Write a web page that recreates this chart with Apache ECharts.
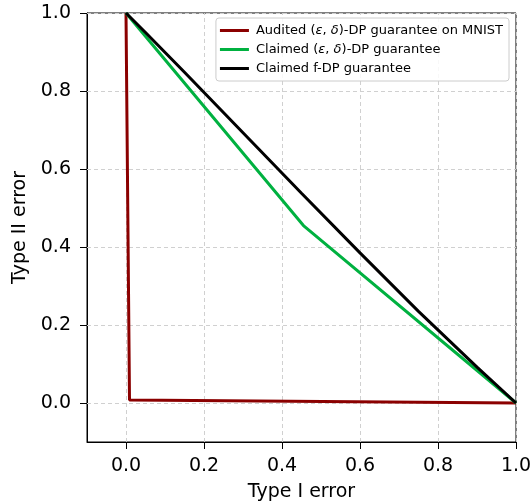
<!DOCTYPE html>
<html>
<head>
<meta charset="utf-8">
<script src="https://cdn.jsdelivr.net/npm/echarts@6/dist/echarts.min.js"></script>
<style>
html,body{margin:0;padding:0;background:#fff;}
#chart{width:532px;height:504px;}
</style>
</head>
<body>
<div id="chart"></div>
<script>
// ---- data ----
const auditedX = [0.0, 0.009, 1.0];
const auditedY = [1.0, 0.008, 0.0];
const claimedEDX = [0.0, 0.455, 1.0];
const claimedEDY = [1.0, 0.455, 0.0];
const fdpX = [0.0, 0.05, 0.15, 0.3, 0.45, 0.6, 0.75, 0.9, 1.0];
const fdpY = [1.0, 0.95, 0.848, 0.693, 0.538, 0.385, 0.235, 0.092, 0.0];
const tickValues = [0.0, 0.2, 0.4, 0.6, 0.8, 1.0];
const seriesNames = ['Audited (ε, δ)-DP guarantee on MNIST', 'Claimed (ε, δ)-DP guarantee', 'Claimed f-DP guarantee'];
const seriesColors = ['#8b0000', '#00b140', '#000000'];
const xName = 'Type I error';
const yName = 'Type II error';

function zip(xs, ys) { return xs.map((x, i) => [x, ys[i]]); }

const gridMarks = tickValues.map(v => ({ xAxis: v })).concat(tickValues.map(v => ({ yAxis: v })));

const chart = echarts.init(document.getElementById('chart'), null, { renderer: 'canvas' });
const font = 'DejaVu Sans';
chart.setOption({
  animation: false,
  backgroundColor: '#fff',
  grid: { left: 87, right: 16, top: 13, bottom: 62, show: true, borderColor: '#000', borderWidth: 1,
    backgroundColor: 'transparent', containLabel: false, outerBoundsMode: 'none' },
  legend: {
    orient: 'vertical',
    right: 23, top: 18, zlevel: 2,
    data: seriesNames,
    itemWidth: 29, itemHeight: 3, itemGap: 6,
    icon: 'rect',
    padding: [6, 6, 6, 4],
    borderColor: '#cccccc', borderWidth: 1, borderRadius: 3,
    backgroundColor: 'rgba(255,255,255,0.85)',
    textStyle: { fontFamily: font, fontSize: 13, color: '#000', padding: [0, 0, 0, 2],
      rich: { i: { fontFamily: font, fontSize: 13, fontStyle: 'italic', color: '#000' } } },
    formatter: function (n) { return n.replace('ε', '{i|ε}').replace('δ', '{i|δ}'); }
  },
  xAxis: {
    type: 'value', min: -0.1, max: 1.0,
    name: xName, nameLocation: 'middle', nameGap: 41,
    nameTextStyle: { fontFamily: font, fontSize: 19, color: '#000' },
    axisLine: { show: true, onZero: false, lineStyle: { color: '#000', width: 1 } },
    axisTick: { show: true, length: 7, customValues: tickValues, lineStyle: { color: '#000', width: 1 } },
    axisLabel: { show: true, customValues: tickValues, margin: 15, fontFamily: font, fontSize: 19, color: '#000',
      formatter: v => v.toFixed(1) },
    splitLine: { show: false }
  },
  yAxis: {
    type: 'value', min: -0.1, max: 1.0,
    name: yName, nameLocation: 'middle', nameGap: 48,
    nameTextStyle: { fontFamily: font, fontSize: 19, color: '#000' },
    axisLine: { show: true, onZero: false, lineStyle: { color: '#000', width: 1 } },
    axisTick: { show: true, length: 7, customValues: tickValues, lineStyle: { color: '#000', width: 1 } },
    axisLabel: { show: true, customValues: tickValues, margin: 16, fontFamily: font, fontSize: 19, color: '#000',
      formatter: v => v.toFixed(1) },
    splitLine: { show: false }
  },
  series: [
    {
      type: 'line', name: '_grid', data: [], z: 0, zlevel: 0, silent: true,
      markLine: {
        silent: true, symbol: 'none', animation: false,
        label: { show: false },
        lineStyle: { color: '#d0d0d0', width: 1, type: [4, 3] },
        data: gridMarks
      }
    },
    { type: 'line', name: seriesNames[0], data: zip(auditedX, auditedY), showSymbol: false, symbol: 'none', z: 3, zlevel: 1,
      lineStyle: { color: seriesColors[0], width: 3 }, itemStyle: { color: seriesColors[0] } },
    { type: 'line', name: seriesNames[1], data: zip(claimedEDX, claimedEDY), showSymbol: false, symbol: 'none', z: 3, zlevel: 1,
      lineStyle: { color: seriesColors[1], width: 3 }, itemStyle: { color: seriesColors[1] } },
    { type: 'line', name: seriesNames[2], data: zip(fdpX, fdpY), showSymbol: false, symbol: 'none', z: 4, zlevel: 1,
      lineStyle: { color: seriesColors[2], width: 3 }, itemStyle: { color: seriesColors[2] } }
  ]
});
</script>
</body>
</html>
